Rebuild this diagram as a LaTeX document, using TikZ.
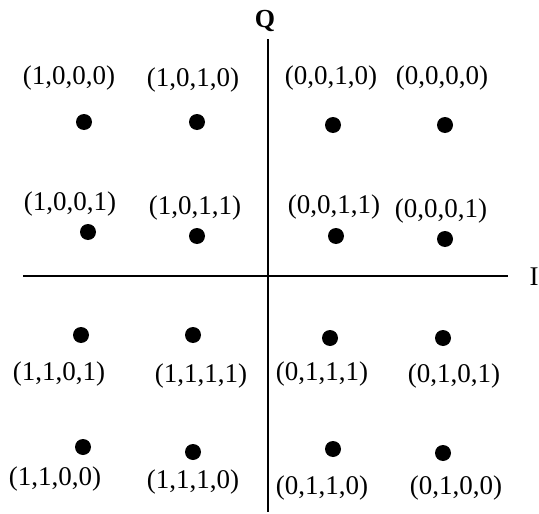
\documentclass[tikz,border=0pt]{standalone}
\usepackage{fontspec}
\setmainfont{Liberation Serif}
\begin{document}
\begin{tikzpicture}[x=1pt,y=-1pt,
  dot/.style={circle,fill=black,inner sep=0pt,minimum size=16pt},
  lbl/.style={inner sep=0pt,font=\fontsize{27}{30}\selectfont},
  axis/.style={line width=1.6pt}]
\useasboundingbox (0,0) rectangle (539,514);
% axes
\coordinate (qtop) at (268,39);
\coordinate (qbot) at (268,512);
\coordinate (ileft) at (23,276);
\coordinate (iright) at (508,276);
\draw[axis] (qtop) -- (qbot);
\draw[axis] (ileft) -- (iright);
\node[lbl,font=\fontsize{26}{28}\selectfont\bfseries] (Q) at (265,21) {Q};
\node[lbl] (I) at (534,277) {I};
% dots
\node[dot] (d1000) at (84,122) {};
\node[dot] (d1010) at (197,122) {};
\node[dot] (d0010) at (333,125) {};
\node[dot] (d0000) at (445,125) {};
\node[dot] (d1001) at (88,232) {};
\node[dot] (d1011) at (197,236) {};
\node[dot] (d0011) at (336,236) {};
\node[dot] (d0001) at (445,239) {};
\node[dot] (d1101) at (81,335) {};
\node[dot] (d1111) at (193,335) {};
\node[dot] (d0111) at (330,338) {};
\node[dot] (d0101) at (443,338) {};
\node[dot] (d1100) at (83,447) {};
\node[dot] (d1110) at (193,452) {};
\node[dot] (d0110) at (333,449) {};
\node[dot] (d0100) at (443,453) {};
% labels
\node[lbl] (l1000) at (69,78) {(1,0,0,0)};
\node[lbl] (l1010) at (193,80) {(1,0,1,0)};
\node[lbl] (l0010) at (331,78) {(0,0,1,0)};
\node[lbl] (l0000) at (442,78) {(0,0,0,0)};
\node[lbl] (l1001) at (70,204) {(1,0,0,1)};
\node[lbl] (l1011) at (195,208) {(1,0,1,1)};
\node[lbl] (l0011) at (334,207) {(0,0,1,1)};
\node[lbl] (l0001) at (441,211) {(0,0,0,1)};
\node[lbl] (l1101) at (59,374) {(1,1,0,1)};
\node[lbl] (l1111) at (201,376) {(1,1,1,1)};
\node[lbl] (l0111) at (322,374) {(0,1,1,1)};
\node[lbl] (l0101) at (454,376) {(0,1,0,1)};
\node[lbl] (l1100) at (55,479) {(1,1,0,0)};
\node[lbl] (l1110) at (193,482) {(1,1,1,0)};
\node[lbl] (l0110) at (322,488) {(0,1,1,0)};
\node[lbl] (l0100) at (456,488) {(0,1,0,0)};
\end{tikzpicture}
\end{document}
